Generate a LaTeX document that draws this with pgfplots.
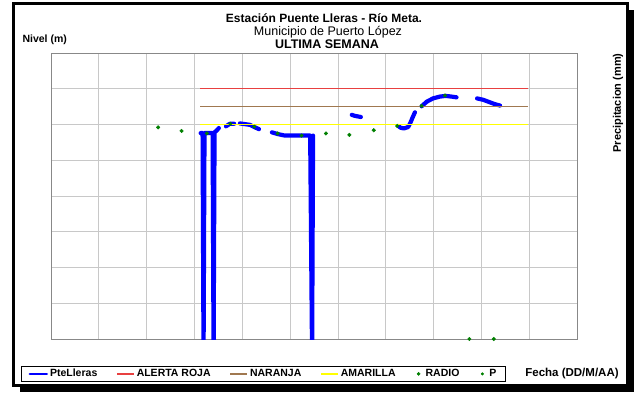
\documentclass[border=0pt]{standalone}
\usepackage{fontspec}
\setmainfont{Liberation Sans}
\usepackage{pgfplots}
\pgfplotsset{compat=1.18}

\definecolor{nivel}{RGB}{0,0,255}
\definecolor{roja}{RGB}{232,64,64}
\definecolor{naranja}{RGB}{160,120,80}
\definecolor{amarilla}{RGB}{255,255,0}
\definecolor{radio}{RGB}{0,128,0}
\definecolor{rejilla}{RGB}{200,200,200}
\definecolor{borde}{RGB}{136,136,136}

\pgfplotsset{
  linea leyenda/.style={legend image code/.code={\draw[##1] (0pt,0pt) -- (17pt,0pt);}},
  linea gruesa/.style={legend image code/.code={\draw[##1, line width=2.5pt] (0pt,0pt) -- (17pt,0pt);}},
  punto leyenda/.style={legend image code/.code={\path[draw=none] (0pt,0pt) -- (9pt,0pt); \fill[radio] (4pt,0pt) circle (#1);}},
}

\begin{document}
\begin{tikzpicture}[x=1pt,y=1pt]
\useasboundingbox (0,0) rectangle (634,-395);
% marco con sombra
\fill[black] (20,-10) rectangle (634,-392);
\filldraw[fill=white,draw=black,line width=3pt] (13.5,-3.5) rectangle (627.5,-385.5);

\begin{axis}[
    at={(51pt,-53pt)}, anchor=north west,
    scale only axis, width=526pt, height=286pt,
    xmin=0, xmax=11, ymin=0, ymax=8,
    xtick={0,...,11}, ytick={0,...,8},
    xticklabels={}, yticklabels={},
    major tick length=0pt,
    grid=major,
    grid style={rejilla, line width=0.8pt},
    axis line style={borde, line width=0.8pt},
    clip mode=individual,
    unbounded coords=jump,
    legend columns=6,
    legend cell align=left,
    legend style={at={(0.404,-0.122)}, anchor=center,
        draw=black, line width=0.6pt, fill=white,
        font=\bfseries\fontsize{10.5}{12}\selectfont,
        inner xsep=7pt, inner ysep=1pt,
        /tikz/every even column/.append style={column sep=17pt}},
]
% nivel PteLleras
\addplot[nivel, line width=4.2pt, line join=round, line cap=round, linea gruesa]
coordinates {
 (3.13,5.76)(3.17,5.76)(3.19,-0.5)(3.21,5.76)(3.38,5.76)(3.40,-0.5)(3.42,5.78)(3.47,5.84)(3.51,5.90)
 (3.58,nan)
 (3.66,5.95)(3.74,6.02)(3.83,6.02)
 (3.89,nan)
 (3.95,6.03)(4.16,5.99)(4.25,5.93)(4.35,5.87)
 (4.50,nan)
 (4.62,5.78)(4.75,5.73)(4.89,5.69)(5.42,5.69)(5.46,-0.5)(5.48,5.69)
 (5.90,nan)
 (6.29,6.27)(6.36,6.24)(6.48,6.21)
 (6.90,nan)
 (7.26,5.96)(7.31,5.91)(7.38,5.89)(7.47,5.93)(7.52,6.06)(7.56,6.19)(7.61,6.34)
 (7.68,nan)
 (7.75,6.51)(7.86,6.64)(7.99,6.73)(8.13,6.78)(8.25,6.80)(8.38,6.78)(8.48,6.76)
 (8.70,nan)
 (8.91,6.73)(9.04,6.69)(9.18,6.62)(9.28,6.57)(9.39,6.53)
};
\addlegendentry{PteLleras}
% umbrales
\addplot[roja, line width=1.4pt, linea leyenda] coordinates {(3.12,7)(9.98,7)};
\addlegendentry{ALERTA ROJA}
\addplot[naranja, line width=1.4pt, linea leyenda] coordinates {(3.12,6.5)(9.98,6.5)};
\addlegendentry{NARANJA}
\addplot[amarilla, line width=1.4pt, linea leyenda] coordinates {(3.12,6.0)(9.98,6.0)};
\addlegendentry{AMARILLA}
% lecturas radio
\addplot[only marks, mark=*, mark size=1.8pt, radio, punto leyenda=1.5pt]
coordinates {
 (2.24,5.92)(2.73,5.82)(3.26,5.75)(3.75,6.02)(4.25,5.94)(4.74,5.75)(5.24,5.69)
 (5.75,5.75)(6.24,5.71)(6.75,5.84)(7.24,5.96)(7.75,6.52)(8.24,6.81)
};
\addlegendentry{RADIO}
% precipitacion
\addplot[only marks, mark=*, mark size=1.8pt, radio, punto leyenda=1.2pt]
coordinates {(8.75,0)(9.26,0)};
\addlegendentry{P}
\end{axis}

% titulos y etiquetas
\node[anchor=base, font=\bfseries\fontsize{12}{14}\selectfont] at (324,-22.7) {Estación Puente Lleras - Río Meta.};
\node[anchor=base, font=\fontsize{12.5}{14}\selectfont] at (328,-36) {Municipio de Puerto López};
\node[anchor=base, font=\bfseries\fontsize{12.5}{14}\selectfont] at (327,-48.3) {ULTIMA SEMANA};
\node[anchor=west, font=\bfseries\fontsize{10.5}{12}\selectfont] at (19,-40) {Nivel (m)};
\node[rotate=90, font=\bfseries\fontsize{11}{13}\selectfont] at (618,-103) {Precipitacion (mm)};
\node[font=\bfseries\fontsize{11.5}{13}\selectfont] at (572,-374) {Fecha (DD/M/AA)};
\end{tikzpicture}
\end{document}
